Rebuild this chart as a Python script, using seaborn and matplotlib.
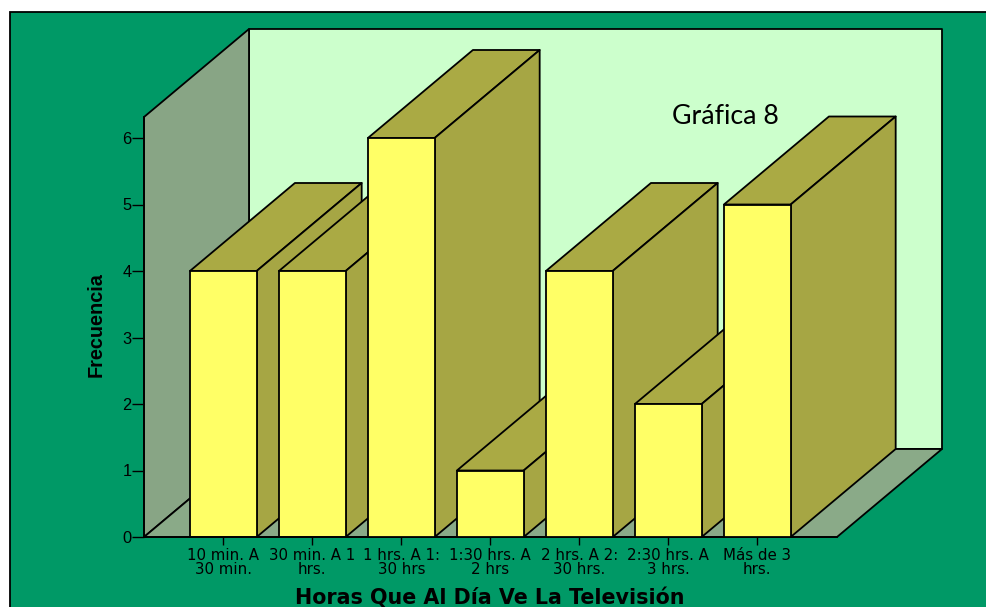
import matplotlib
matplotlib.use("Agg")
import matplotlib.pyplot as plt
import seaborn as sns
from matplotlib.patches import Polygon, Rectangle

categorias = ["10 min. A\n30 min.", "30 min. A 1\nhrs.", "1 hrs. A 1:\n30 hrs", "1:30 hrs. A\n2 hrs",
              "2 hrs. A 2:\n30 hrs.", "2:30 hrs. A\n3 hrs.", "Más de 3\nhrs."]
frecuencias = [4, 4, 6, 1, 4, 2, 5]
ticks_y = [0, 1, 2, 3, 4, 5, 6]

VERDE = "#009966"
MURO = "#ccffcc"
LATERAL = "#88a585"
PISO = "#8aaa88"
FRENTE = "#ffff66"
TAPA = "#aaaa44"
COSTADO = "#a6a644"
LW = 1.3

sns.set_style("ticks")
plt.rcParams["font.family"] = ["Liberation Sans", "DejaVu Sans"]
plt.rcParams["text.color"] = "black"
plt.rcParams["axes.labelcolor"] = "black"
plt.rcParams["xtick.color"] = "black"
plt.rcParams["ytick.color"] = "black"
plt.rcParams["axes.edgecolor"] = "black"

W, H = 987, 607
fig = plt.figure(figsize=(W / 100, H / 100), dpi=100, facecolor="white")
# marco verde, se sale por la derecha y por abajo
fig.add_artist(Rectangle((10 / W, -0.02), 1, 1.02 - 12 / H, transform=fig.transFigure,
                         facecolor=VERDE, edgecolor="black", lw=LW, clip_on=False, zorder=-1))

ax = fig.add_axes([144 / W, (H - 537) / H, 693 / W, 420 / H])
ax.patch.set_visible(False)

# escala en pixeles por unidad
px_x = 89
px_y = 66.5
dx = 105 / px_x
dy = 88 / px_y

sns.barplot(x=categorias, y=frecuencias, color=FRENTE, saturation=1, width=0.75,
            edgecolor="black", linewidth=LW, ax=ax)

xmin, xmax = (144 - 223.3) / px_x, (837 - 223.3) / px_x
ymax = 420 / px_y
ax.set_xlim(xmin, xmax)
ax.set_ylim(0, ymax)


def poligono(puntos, color, z):
    ax.add_patch(Polygon(puntos, closed=True, facecolor=color, edgecolor="black",
                         lw=LW, zorder=z, clip_on=False, joinstyle="round"))


# paredes y piso
poligono([(xmin + dx, dy), (xmax + dx, dy), (xmax + dx, ymax + dy), (xmin + dx, ymax + dy)], MURO, 0.1)
poligono([(xmin, 0), (xmin + dx, dy), (xmin + dx, ymax + dy), (xmin, ymax)], LATERAL, 0.2)
poligono([(xmin, 0), (xmax, 0), (xmax + dx, dy), (xmin + dx, dy)], PISO, 0.3)

# barras de izquierda a derecha, cada una tapa a la anterior
for i, bar in enumerate(ax.patches[:len(frecuencias)]):
    x0, x1 = bar.get_x(), bar.get_x() + bar.get_width()
    h = bar.get_height()
    z = 1 + i
    poligono([(x0, h), (x1, h), (x1 + dx, h + dy), (x0 + dx, h + dy)], TAPA, z)
    poligono([(x1, 0), (x1 + dx, dy), (x1 + dx, h + dy), (x1, h)], COSTADO, z + 0.1)
    bar.set_zorder(z + 0.2)
    bar.set_clip_on(False)

ax.set_yticks(ticks_y)
ax.tick_params(axis="y", length=8.5, width=1.0, labelsize=11.8, pad=0.5)
ax.tick_params(axis="x", length=6, width=1.0, labelsize=10.8, pad=2)
for t in ax.get_xticklabels():
    t.set_family(["DejaVu Sans"])
    t.set_linespacing(0.9)
sns.despine(ax=ax)
ax.spines["left"].set_zorder(0.5)
ax.spines["bottom"].set_linewidth(LW)
ax.spines["left"].set_linewidth(LW)

ax.set_ylabel("Frecuencia", fontsize=14.3, fontweight="bold")
ax.yaxis.set_label_coords((96 - 144) / 693, 0.505, transform=ax.transAxes)
ax.set_xlabel("Horas Que Al Día Ve La Televisión", fontsize=14.9, fontweight="bold",
              family=["DejaVu Sans"])
ax.xaxis.set_label_coords(0.4995, -(598 - 537) / 420, transform=ax.transAxes)
ax.xaxis.label.set_va("center")
ax.yaxis.label.set_va("center")

fig.text(725 / W, 1 - 117 / H, "Gráfica 8", fontsize=19.3, family=["Lato", "DejaVu Sans"],
         ha="center", va="center", color="black", zorder=20)

fig.savefig("out.png", dpi=100, facecolor="white")
